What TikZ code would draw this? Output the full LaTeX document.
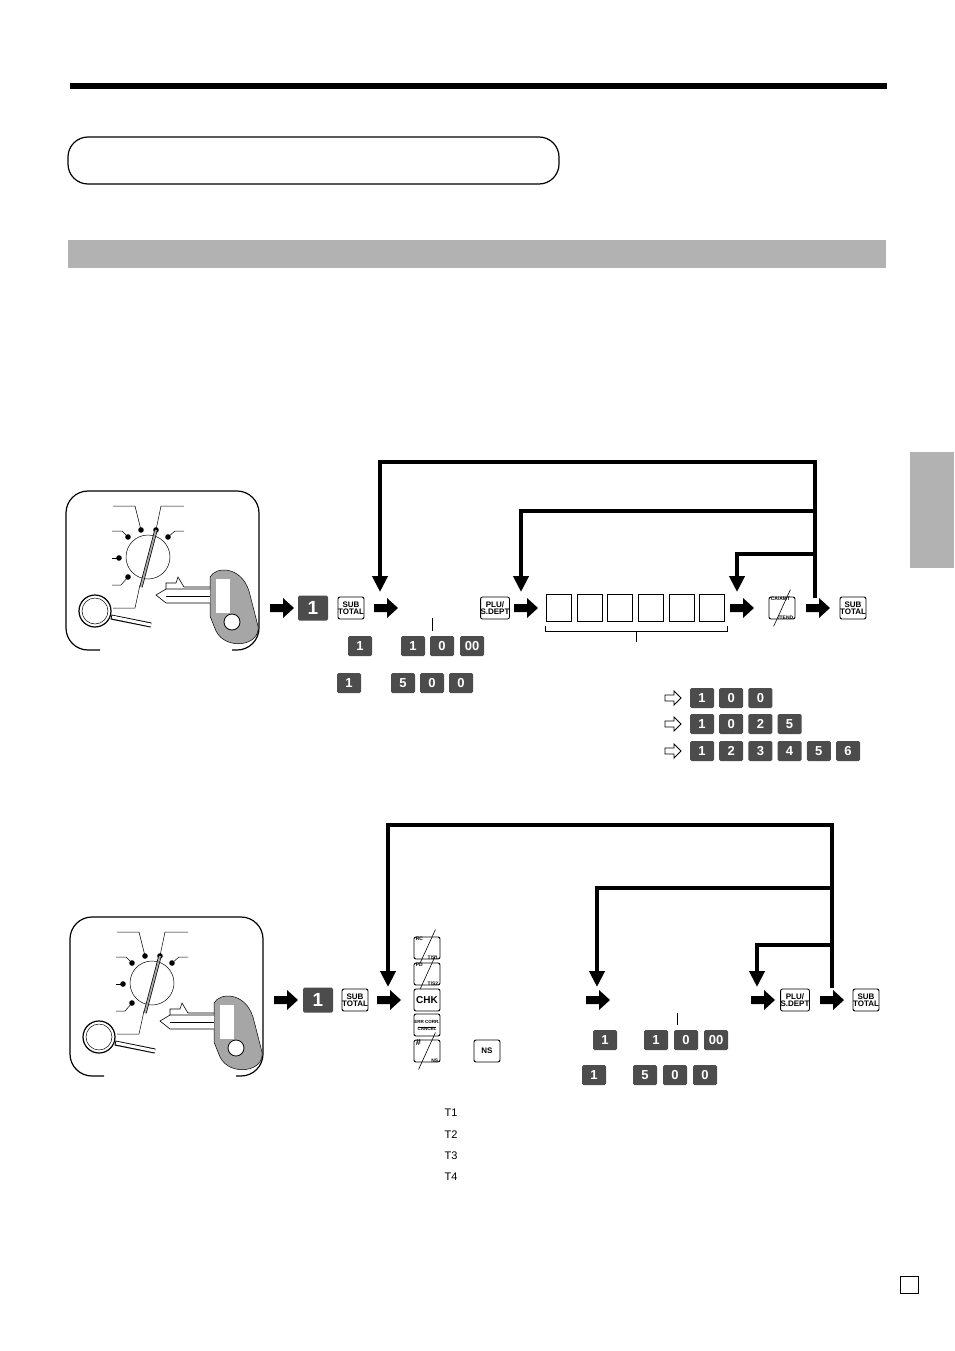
\documentclass[tikz,border=0pt]{standalone}
\usepackage{fontspec}
\setmainfont{Liberation Sans}
\usetikzlibrary{arrows.meta}
\tikzset{
 dkey/.style={fill=black!70,rounded corners=1.5pt,text=white,font=\bfseries\fontsize{13}{13}\selectfont,minimum width=24pt,minimum height=20pt,inner sep=0pt},
 bigkey/.style={dkey,minimum width=30pt,minimum height=25pt,font=\bfseries\fontsize{19}{19}\selectfont},
 lkey/.style={draw,line width=0.9pt,rounded corners=2pt,fill=white,font=\bfseries\fontsize{8}{8}\selectfont,minimum width=26pt,minimum height=22pt,inner sep=0pt,align=center},
 loop/.style={line width=4pt,-{Triangle[width=15pt,length=16pt]}},
 loopn/.style={line width=4pt},
 digit/.style={draw,line width=0.8pt,minimum width=25pt,minimum height=27pt,inner sep=0pt},
}
\newcommand{\mybarr}[2]{\fill (#1-12,#2-4) -- (#1+1,#2-4) -- (#1+1,#2-10) -- (#1+12,#2) -- (#1+1,#2+10) -- (#1+1,#2+4) -- (#1-12,#2+4) -- cycle;}
\newcommand{\myoarr}[2]{\draw[line width=0.8pt] (#1-8,#2-3) -- (#1+1,#2-3) -- (#1+1,#2-7) -- (#1+8,#2) -- (#1+1,#2+7) -- (#1+1,#2+3) -- (#1-8,#2+3) -- cycle;}
\newcommand{\myslash}[4]{\node[lkey] (#1) at (#2) {};
 \draw[line width=0.6pt] ([shift={(5,7)}]#1.south west) -- ([shift={(-5,-7)}]#1.north east);
 \node[anchor=north west,inner sep=1pt,font=\bfseries\fontsize{5}{5}\selectfont] at ([shift={(1,-1)}]#1.north west) {#3};
 \node[anchor=south east,inner sep=1pt,font=\bfseries\fontsize{5}{5}\selectfont] at ([shift={(-1,1)}]#1.south east) {#4};}
\newcommand{\myswitch}[2]{
\begin{scope}[shift={(#1,#2)}]
 \draw[line width=1.2pt,rounded corners=22] (34,159) -- (0,159) -- (0,0) -- (193,0) -- (193,159) -- (166,159);
 \draw[line width=0.5pt] (82,66) circle (22);
 \foreach \p in {(62,46),(75,39),(90,39),(102,46),(53,67),(62,86)} \fill \p circle (2.8);
 \draw[line width=0.5pt] (75,39) -- (69,15) -- (47,15);
 \draw[line width=0.5pt] (90,39) -- (95,15) -- (118,15);
 \draw[line width=0.5pt] (62,46) -- (56,40) -- (46,40);
 \draw[line width=0.5pt] (102,46) -- (109,40) -- (118,40);
 \draw[line width=0.5pt] (53,67) -- (46,67);
 \draw[line width=0.5pt] (62,86) -- (55,94) -- (46,94);
 \draw[line width=0.5pt] (74,94) -- (69,117) -- (47,117);
 \draw[line width=3.2pt,black] (75,96) -- (90,39);
 \draw[line width=1.8pt,black!35] (75,96) -- (90,39);
 \draw[line width=1.2pt,fill=white] (29,120) circle (16);
 \draw[line width=0.5pt] (29,120) circle (13);
 \draw[line width=5pt] (45,126) -- (85,134);
 \draw[line width=3pt,white] (46,126) -- (85,134);
 \draw[line width=0.5pt,fill=black!35] (144,86) .. controls (150,75) and (175,75) .. (183,100) -- (192,135) .. controls (195,155) and (160,160) .. (150,140) -- (144,125) -- cycle;
 \fill[white] (150,88) rectangle (164,122);
 \draw[fill=white,line width=0.8pt] (166,131) circle (8);
 \draw[line width=0.6pt,fill=white] (144,98) -- (100,98) -- (90,104) -- (100,112) -- (144,112);
 \draw[line width=0.5pt] (100,105) -- (144,105);
 \draw[line width=0.6pt] (100,98) -- (100,92) -- (110,92) -- (112,86) -- (118,96) -- (144,96);
\end{scope}}
\begin{document}
\begin{tikzpicture}[x=1pt,y=-1pt]
\useasboundingbox (0,0) rectangle (954,1351);
% header
\fill (70,83) rectangle (887,89);
\draw[line width=1.2pt,rounded corners=20] (68,137) rectangle (559,184);
\fill[black!30] (68,240) rectangle (886,268);
\fill[black!30] (910,452) rectangle (954,568);
\draw[line width=0.8pt] (900,1276) rectangle (918,1293);

% ===== diagram 1 =====
\myswitch{66}{491}
\mybarr{282}{608}
\node[bigkey] (a1) at (313,608) {1};
\node[lkey] (a2) at (351,608) {SUB\\[-1pt]TOTAL};
\mybarr{386}{608}
\node[lkey] (a3) at (495,608) {PLU/\\[-1pt]S.DEPT};
\mybarr{526}{608}
\foreach \i in {0,...,5} \node[digit] (b\i) at (559+\i*30.6,608) {};
\mybarr{742}{608}
\myslash{a4}{782,608}{CA/AMT}{/TEND}
\mybarr{818}{608}
\node[lkey] (a5) at (853,608) {SUB\\[-1pt]TOTAL};
\draw[line width=0.6pt] (545,626) -- (545,631) -- (727,631) -- (727,626);
\draw[line width=0.6pt] (636,631) -- (636,642);
\draw[line width=0.6pt] (432,618) -- (432,631);
\coordinate (t1) at (380,592); \coordinate (t2) at (521,592); \coordinate (t3) at (737,592); \coordinate (r1) at (815,598);
\draw[loop] (r1) -- (815,462) -- (380,462) -- (t1);
\draw[loop] (815,511) -- (521,511) -- (t2);
\draw[loop] (815,554) -- (737,554) -- (t3);
\node[dkey] at (360,646) {1};
\node[dkey] at (413,646) {1};
\node[dkey] at (442,646) {0};
\node[dkey] at (472,646) {00};
\node[dkey] at (349,683) {1};
\node[dkey] at (403,683) {5};
\node[dkey] at (432,683) {0};
\node[dkey] at (461,683) {0};
\myoarr{673}{698}
\myoarr{673}{724}
\myoarr{673}{751}
\foreach \d [count=\k from 0] in {1,0,0} \node[dkey] at (702+\k*29.2,698) {\d};
\foreach \d [count=\k from 0] in {1,0,2,5} \node[dkey] at (702+\k*29.2,724) {\d};
\foreach \d [count=\k from 0] in {1,2,3,4,5,6} \node[dkey] at (702+\k*29.2,751) {\d};

% ===== diagram 2 =====
\myswitch{70}{917}
\mybarr{286}{1000}
\node[bigkey] (c1) at (318,1000) {1};
\node[lkey] (c2) at (355,1000) {SUB\\[-1pt]TOTAL};
\mybarr{389}{1000}
\myslash{k1}{427,948}{RC}{T/S1}
\myslash{k2}{427,974}{PD}{T/S2}
\node[lkey,font=\bfseries\fontsize{10}{10}\selectfont] (k3) at (427,1000) {CHK};
\node[lkey,font=\bfseries\fontsize{4.5}{5}\selectfont] (k4) at (427,1025) {ERR CORR.\\[-1pt]\rule{18pt}{0.4pt}\\[-2pt]CANCEL};
\myslash{k5}{427,1051}{\fontsize{9}{9}\selectfont\#}{NS}
\node[lkey,font=\bfseries\fontsize{8}{8}\selectfont] (k6) at (487,1051) {NS};
\mybarr{598}{1000}
\mybarr{763}{1000}
\node[lkey] (c3) at (795,1000) {PLU/\\[-1pt]S.DEPT};
\mybarr{832}{1000}
\node[lkey] (c4) at (866,1000) {SUB\\[-1pt]TOTAL};
\draw[line width=0.6pt] (677,1013) -- (677,1025);
\coordinate (u1) at (388,987); \coordinate (u2) at (597,987); \coordinate (u3) at (757,987); \coordinate (s1) at (832,988);
\draw[loop] (s1) -- (832,825) -- (388,825) -- (u1);
\draw[loop] (832,888) -- (597,888) -- (u2);
\draw[loop] (832,945) -- (757,945) -- (u3);
\node[dkey] at (605,1040) {1};
\node[dkey] at (656,1040) {1};
\node[dkey] at (686,1040) {0};
\node[dkey] at (716,1040) {00};
\node[dkey] at (594,1075) {1};
\node[dkey] at (645,1075) {5};
\node[dkey] at (675,1075) {0};
\node[dkey] at (705,1075) {0};
\foreach \t [count=\k from 0] in {T1,T2,T3,T4} \node[font=\fontsize{11}{11}\selectfont] at (451,1113+\k*21.3) {\t};
\end{tikzpicture}
\end{document}
